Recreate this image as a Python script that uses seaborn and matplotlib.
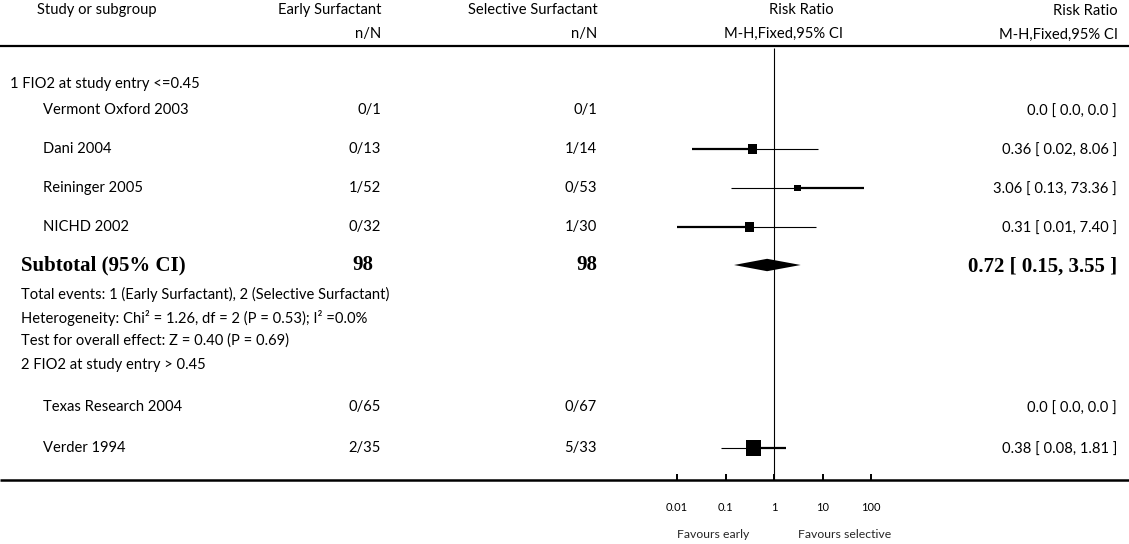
import numpy as np
import pandas as pd
import matplotlib
matplotlib.use("Agg")
import matplotlib.pyplot as plt
import seaborn as sns

# ---- data -------------------------------------------------------------
studies = ["Vermont Oxford 2003", "Dani 2004", "Reininger 2005", "NICHD 2002",
           "Texas Research 2004", "Verder 1994"]
early_nN = ["0/1", "0/13", "1/52", "0/32", "0/65", "2/35"]
selective_nN = ["0/1", "1/14", "0/53", "1/30", "0/67", "5/33"]
rr = [np.nan, 0.36, 3.06, 0.31, np.nan, 0.38]
rr_lo = [np.nan, 0.02, 0.13, 0.01, np.nan, 0.08]
rr_hi = [np.nan, 8.06, 73.36, 7.40, np.nan, 1.81]

subgroup_titles = ["1 FIO2 at study entry <=0.45", "2 FIO2 at study entry > 0.45"]
subtotal_label = "Subtotal (95% CI)"
subtotal_early_N = 98
subtotal_selective_N = 98
subtotal_rr = 0.72
subtotal_lo = 0.15
subtotal_hi = 3.55
subtotal_notes = [
    "Total events: 1 (Early Surfactant), 2 (Selective Surfactant)",
    "Heterogeneity: Chi\u00b2 = 1.26, df = 2 (P = 0.53); I\u00b2 =0.0%",
    "Test for overall effect: Z = 0.40 (P = 0.69)",
]
tick_values = [0.01, 0.1, 1, 10, 100]
tick_labels = ["0.01", "0.1", "1", "10", "100"]
favours_left = "Favours early"
favours_right = "Favours selective"

# ---- layout (pixel units, origin top-left) ------------------------------
W, H = 1129, 544
study_y = [110, 149, 188, 227, 407, 448]
box_area = [0, 42, 25, 42, 0, 117]          # square marker areas (pt^2)
heavy_arm = ["", "left", "right", "left", "", "right"]   # printed heavier half of each CI
title_y = [84, 365]
subtotal_y = 265
note_y = [294, 318, 341]
axis_y = 480
x_name, x_indent_title = 43, 21
x_early, x_sel, x_right = 381, 597, 1117

sns.set_theme(style="white")
plt.rcParams["font.family"] = ["Lato", "DejaVu Sans"]
REG = dict(fontsize=10.6, color="black")
BOLD = dict(fontsize=15, family="Liberation Serif", weight="bold", color="black")
SMALL = 8.0

fig = plt.figure(figsize=(W / 100, H / 100), dpi=100)
fig.patch.set_facecolor("white")
bg = fig.add_axes([0, 0, 1, 1])
bg.set_xlim(0, W)
bg.set_ylim(H, 0)
bg.axis("off")

# header
bg.text(97, 10, "Study or subgroup", ha="center", va="center", **REG)
bg.text(x_early + 1, 10, "Early Surfactant", ha="right", va="center", **REG)
bg.text(x_early, 34, "n/N", ha="right", va="center", **REG)
bg.text(x_sel + 1, 10, "Selective Surfactant", ha="right", va="center", **REG)
bg.text(x_sel, 34, "n/N", ha="right", va="center", **REG)
bg.text(801, 10, "Risk Ratio", ha="center", va="center", **REG)
bg.text(783, 34, "M-H,Fixed,95% CI", ha="center", va="center", **REG)
bg.text(x_right + 1, 11, "Risk Ratio", ha="right", va="center", **REG)
bg.text(x_right + 1, 35, "M-H,Fixed,95% CI", ha="right", va="center", **REG)
bg.plot([0, W], [46, 46], color="black", lw=1.6, solid_capstyle="butt")
bg.plot([0, W], [axis_y, axis_y], color="black", lw=1.8, solid_capstyle="butt")

# subgroup titles and notes
bg.text(10, title_y[0], subgroup_titles[0], ha="left", va="center", **REG)
bg.text(x_indent_title, title_y[1], subgroup_titles[1], ha="left", va="center", **REG)
for txt, y in zip(subtotal_notes, note_y):
    bg.text(x_indent_title, y, txt, ha="left", va="center", **REG)


def ci_text(v, lo, hi):
    if np.isnan(v):
        return "0.0 [ 0.0, 0.0 ]"
    return f"{v:.2f} [ {lo:.2f}, {hi:.2f} ]"


for name, e, s, v, lo, hi, y in zip(studies, early_nN, selective_nN, rr, rr_lo, rr_hi, study_y):
    bg.text(x_name, y, name, ha="left", va="center", **REG)
    bg.text(x_early, y, e, ha="right", va="center", **REG)
    bg.text(x_sel, y, s, ha="right", va="center", **REG)
    bg.text(x_right, y + 2, ci_text(v, lo, hi), ha="right", va="center", **REG)

bg.text(x_indent_title, subtotal_y, subtotal_label, ha="left", va="center", **BOLD)
bg.text(x_early - 8, subtotal_y, str(subtotal_early_N), ha="right", va="center", **BOLD)
bg.text(x_sel, subtotal_y, str(subtotal_selective_N), ha="right", va="center", **BOLD)
bg.text(x_right, subtotal_y + 2, ci_text(subtotal_rr, subtotal_lo, subtotal_hi),
        ha="right", va="center", **BOLD)

bg.text(713, 535, favours_left, ha="center", va="center", fontsize=8.8)
bg.text(845, 535, favours_right, ha="center", va="center", fontsize=8.8)

# ---- forest panel ---------------------------------------------------------
x0, x1 = 677, 871
fp = fig.add_axes([x0 / W, (H - axis_y) / H, (x1 - x0) / W, axis_y / H])
fp.set_facecolor("none")
fp.set_xscale("log")
fp.set_xlim(tick_values[0], tick_values[-1])
fp.set_ylim(axis_y, 0)

df = pd.DataFrame({"rr": rr, "lo": rr_lo, "hi": rr_hi, "y": study_y,
                   "area": box_area, "heavy": heavy_arm})
df = df.dropna().reset_index(drop=True)

fp.vlines(1, 48, axis_y, color="black", lw=0.8)
for _, r in df.iterrows():
    lw_left = 1.6 if r["heavy"] == "left" else 0.8
    lw_right = 1.6 if r["heavy"] == "right" else 0.8
    fp.hlines(r["y"], r["lo"], r["rr"], color="black", lw=lw_left)
    fp.hlines(r["y"], r["rr"], r["hi"], color="black", lw=lw_right)
sns.scatterplot(data=df, x="rr", y="y", marker="s", s=df["area"].to_numpy(),
                color="black", edgecolor="none", linewidth=0, ax=fp, legend=False, zorder=3)
half_h = 6.2
fp.fill([subtotal_lo, subtotal_rr, subtotal_hi, subtotal_rr],
        [subtotal_y, subtotal_y - half_h, subtotal_y, subtotal_y + half_h],
        color="black", lw=0)

fp.set_xticks(tick_values)
fp.set_xticklabels(tick_labels)
fp.xaxis.set_minor_locator(matplotlib.ticker.NullLocator())
fp.tick_params(axis="x", direction="in", length=4, width=1.4, pad=16, labelsize=SMALL,
               bottom=True, colors="black")
fp.tick_params(axis="y", left=False, labelleft=False)
fp.set_xlabel("")
fp.set_ylabel("")
for side in ["top", "left", "right", "bottom"]:
    fp.spines[side].set_visible(False)

fig.savefig("out.png", dpi=100, facecolor="white")
